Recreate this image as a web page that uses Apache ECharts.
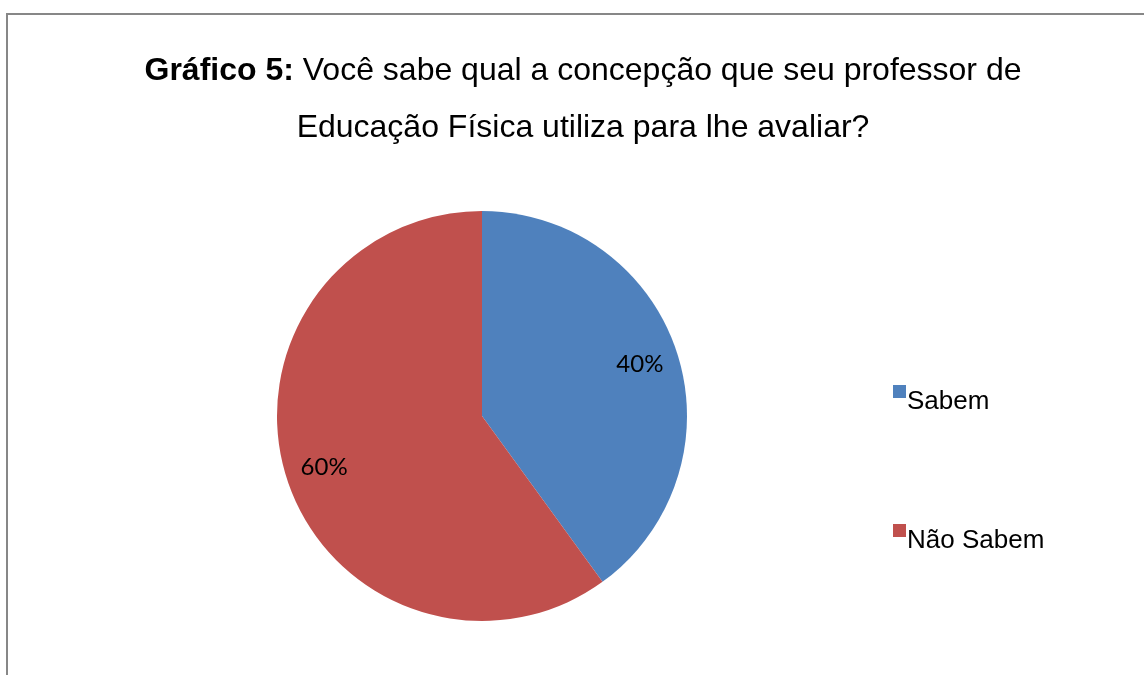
<!DOCTYPE html>
<html>
<head>
<meta charset="utf-8">
<script src="https://cdn.jsdelivr.net/npm/echarts@6/dist/echarts.min.js"></script>
<style>
  html, body { margin: 0; padding: 0; background: #fff; }
  #chart { width: 1144px; height: 675px; }
</style>
</head>
<body>
<div id="chart"></div>
<script>
var categories = ['Sabem', 'Não Sabem'];
var values = [40, 60];
var colors = ['#4F81BD', '#C0504D'];

var pieData = categories.map(function (name, i) {
    return { name: name, value: values[i], itemStyle: { color: colors[i] } };
});

var option = {
    animation: false,
    graphic: [
        {
            type: 'rect',
            shape: { x: 7, y: 14, width: 1160, height: 700 },
            style: { fill: 'none', stroke: '#878787', lineWidth: 2 },
            silent: true
        }
    ],
    title: [
        {
            text: '{b|Gráfico 5:}{n| Você sabe qual a concepção que seu professor de}',
            left: 578,
            top: 50,
            textAlign: 'center',
            textStyle: {
                fontWeight: 'normal',
                rich: {
                    b: { fontFamily: 'Liberation Sans', fontSize: 32, fontWeight: 'bold', color: '#000' },
                    n: { fontFamily: 'Liberation Sans', fontSize: 32, fontWeight: 'normal', color: '#000' }
                }
            }
        },
        {
            text: 'Educação Física utiliza para lhe avaliar?',
            left: 578,
            top: 107,
            textAlign: 'center',
            textStyle: { fontFamily: 'Liberation Sans', fontSize: 32, fontWeight: 'normal', color: '#000' }
        }
    ],
    legend: {
        orient: 'vertical',
        left: 888,
        top: 380,
        // square sits at the top of the icon box, so it lines up above the text middle
        icon: 'path://M0,0H10V10H0Z M0,25.4L0.01,25.4',
        symbolKeepAspect: false,
        itemWidth: 13,
        itemHeight: 33,
        itemGap: 106,
        data: categories,
        textStyle: {
            fontFamily: 'Liberation Sans',
            fontSize: 26,
            color: '#000',
            padding: [0, 0, 0, -4]
        }
    },
    series: [
        {
            type: 'pie',
            center: [482, 416],
            radius: 205,
            startAngle: 90,
            clockwise: true,
            silent: true,
            label: { show: false },
            labelLine: { show: false },
            data: pieData
        },
        {
            // transparent copy only used to place the percentage labels further out
            type: 'pie',
            center: [482, 416],
            radius: 326,
            startAngle: 90,
            clockwise: true,
            silent: true,
            itemStyle: { color: 'transparent' },
            label: {
                show: true,
                position: 'inside',
                formatter: '{c}%',
                fontFamily: 'Lato',
                fontSize: 24,
                color: '#000'
            },
            labelLine: { show: false },
            data: categories.map(function (name, i) {
                return { name: name, value: values[i] };
            })
        }
    ]
};

var myChart = echarts.init(document.getElementById('chart'));
myChart.setOption(option);
</script>
</body>
</html>
